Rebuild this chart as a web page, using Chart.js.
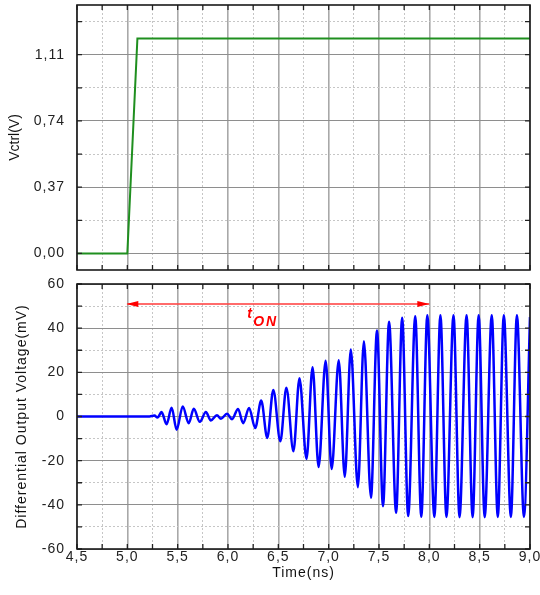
<!DOCTYPE html>
<html><head><meta charset="utf-8">
<script src="https://cdn.jsdelivr.net/npm/chart.js@4/dist/chart.umd.min.js"></script>
<style>
html,body{margin:0;padding:0;background:#fff;width:540px;height:595px;overflow:hidden}
#top{position:absolute;left:0;top:0;width:540px;height:280px}
#bot{position:absolute;left:0;top:270px;width:540px;height:325px}
</style></head><body>
<div id="top"><canvas id="c1"></canvas></div>
<div id="bot"><canvas id="c2"></canvas></div>
<script>
// ---- tick values / labels ----
const timeMajor = [4.5,5.0,5.5,6.0,6.5,7.0,7.5,8.0,8.5,9.0];
const timeMinor = [4.75,5.25,5.75,6.25,6.75,7.25,7.75,8.25,8.75];
const timeLabels = ['4,5','5,0','5,5','6,0','6,5','7,0','7,5','8,0','8,5','9,0'];
const vctrlMajor = [0,0.37,0.74,1.11];
const vctrlMinor = [0.185,0.555,0.925,1.295];
const vctrlLabels = ['0,00','0,37','0,74','1,11'];
const outMajor = [-60,-40,-20,0,20,40,60];
const outMinor = [-50,-30,-10,10,30,50];
const outLabels = ['-60','-40','-20','0','20','40','60'];

// ---- series ----
const vctrlTime = [4.5,5.0,5.1,9.0];
const vctrlValue = [0,0,1.2,1.2];

const outTime = [4.5,5.22,5.27,5.30,5.34,5.39,5.44,5.49,5.55,5.61,5.66,5.72,5.78,5.83,5.89,5.93,5.99,6.04,6.10,6.15,6.21,6.27,6.33,6.39,6.45,6.52,6.58,6.65,6.71,6.78,6.84,6.90,6.97,7.03,7.10,7.16,7.22,7.29,7.35,7.42,7.48,7.54,7.60,7.67,7.73,7.79,7.86,7.92,7.98,8.05,8.11,8.17,8.24,8.30,8.37,8.43,8.49,8.55,8.62,8.68,8.74,8.81,8.87,8.94,9.0];
const outValue = [0,0,0.4,-0.5,2,-3.5,4,-6,4.5,-3,3.5,-2.4,2,-1.8,0.6,-1,1.2,-1.2,3.4,-3,3.8,-5.2,7.2,-9.7,12,-11.2,13,-15.7,17.3,-19.2,22.3,-22.9,25.3,-23.8,25.5,-27.3,30.3,-32,34.1,-36.8,38.9,-40.6,42.9,-43.6,44.7,-45.1,45.4,-45.4,45.9,-45.5,45.9,-45.5,45.9,-45.6,45.9,-45.6,45.9,-45.6,45.9,-45.5,45.9,-45.5,45.9,-45.5,45];

// ---- annotation ----
const arrowTime = [5.0, 8.0];
const arrowValue = [51, 51];
const tonText = ['t', 'ON'];
const tonTime = [6.19, 6.25];
const tonValue = [44.8, 41.2];

const FONT = "'Liberation Sans', Arial, sans-serif";
const near = (a, v) => a.some(t => Math.abs(t - v) < 1e-6);
const labelFor = (maj, labs, v) => { const i = maj.findIndex(t => Math.abs(t - v) < 1e-6); return i >= 0 ? labs[i] : ''; };
const allTicks = (maj, min) => [...maj, ...min].sort((a,b)=>a-b).map(v => ({value: v}));

function gridOpts(maj, vertical){
  return {
    drawTicks: false,
    color: c => near(maj, c.tick.value) ? (vertical ? '#a8a8a8' : '#8e8e8e') : '#c6c6c6',
    lineWidth: c => near(maj, c.tick.value) ? (vertical ? 1.6 : 1) : 1
  };
}
function borderOpts(maj){
  return { display: false, dash: c => (c.tick && !near(maj, c.tick.value)) ? [2,2] : [] };
}

// top chart: letter spacing only for tick labels (drawn after datasets)
const spacingTop = {
  id: 'spacingTop',
  afterDatasetsDraw(chart){ chart.ctx.letterSpacing = '1px'; },
  afterDraw(chart){ chart.ctx.letterSpacing = '0px'; }
};
// bottom chart: letter spacing for all axis text
const spacingBot = {
  id: 'spacingBot',
  beforeDraw(chart){ chart.ctx.letterSpacing = '1px'; },
  afterDraw(chart){ chart.ctx.letterSpacing = '0px'; }
};

function frameTicks(xMaj, xMin, yMaj, yMin){
  return { id: 'frameTicks', afterDraw(chart){
    const {ctx, chartArea: a} = chart; const x = chart.scales.x, y = chart.scales.y;
    ctx.save(); ctx.letterSpacing = '0px';
    ctx.strokeStyle = '#222'; ctx.lineWidth = 1.3; ctx.setLineDash([]);
    const L = 5;
    ctx.beginPath();
    [...xMaj, ...xMin].forEach(v => { const p = x.getPixelForValue(v);
      ctx.moveTo(p, a.bottom); ctx.lineTo(p, a.bottom - L); ctx.moveTo(p, a.top); ctx.lineTo(p, a.top + L); });
    [...yMaj, ...yMin].forEach(v => { const p = y.getPixelForValue(v);
      ctx.moveTo(a.left, p); ctx.lineTo(a.left + L, p); ctx.moveTo(a.right, p); ctx.lineTo(a.right - L, p); });
    ctx.stroke();
    ctx.lineWidth = 1.6; ctx.strokeStyle = '#1a1a1a';
    ctx.strokeRect(a.left, a.top, a.right - a.left, a.bottom - a.top);
    ctx.restore();
  }};
}

const annot = { id: 'annot', afterDatasetsDraw(chart){
  const {ctx} = chart; const x = chart.scales.x, y = chart.scales.y;
  ctx.save();
  ctx.fillStyle = '#ff0000';
  const yp = y.getPixelForValue(arrowValue[0]);
  const x0 = x.getPixelForValue(arrowTime[0]), x1 = x.getPixelForValue(arrowTime[1]);
  ctx.beginPath(); ctx.moveTo(x0 - 1, yp); ctx.lineTo(x0 + 11, yp - 3); ctx.lineTo(x0 + 11, yp + 3); ctx.closePath(); ctx.fill();
  ctx.beginPath(); ctx.moveTo(x1, yp); ctx.lineTo(x1 - 12, yp - 3); ctx.lineTo(x1 - 12, yp + 3); ctx.closePath(); ctx.fill();
  ctx.letterSpacing = '0px';
  ctx.font = 'italic bold 14px ' + FONT; ctx.textBaseline = 'alphabetic'; ctx.textAlign = 'left';
  ctx.fillText(tonText[0], x.getPixelForValue(tonTime[0]), y.getPixelForValue(tonValue[0]));
  ctx.letterSpacing = '2px';
  ctx.font = 'italic bold 14px ' + FONT;
  ctx.fillText(tonText[1], x.getPixelForValue(tonTime[1]), y.getPixelForValue(tonValue[1]));
  ctx.restore();
}};

const tickFont = {family: FONT, size: 14};
const titleFont = {family: FONT, size: 14};

// ---- top chart ----
new Chart(document.getElementById('c1'), {
  type: 'line',
  data: { datasets: [{
    data: vctrlTime.map((t,i) => ({x: t, y: vctrlValue[i]})),
    borderColor: '#1f8f1f', borderWidth: 2, pointRadius: 0, tension: 0, fill: false
  }]},
  options: {
    responsive: true, maintainAspectRatio: false, animation: false,
    events: [],
    layout: { padding: {left: 0, right: 10, top: 5, bottom: 0}, autoPadding: false },
    plugins: { legend: {display: false}, tooltip: {enabled: false} },
    scales: {
      x: { type: 'linear', min: 4.5, max: 9.0,
        afterBuildTicks: s => { s.ticks = allTicks(timeMajor, timeMinor); },
        afterFit: s => { s.height = 10; s.paddingLeft = 0; s.paddingRight = 0; },
        ticks: { display: false },
        grid: gridOpts(timeMajor, true), border: borderOpts(timeMajor) },
      y: { type: 'linear', min: -0.0925, max: 1.3875,
        afterBuildTicks: s => { s.ticks = allTicks(vctrlMajor, vctrlMinor); },
        afterFit: s => { s.width = 77; s.paddingTop = 0; s.paddingBottom = 0; },
        ticks: { z: 1, autoSkip: false, padding: 12, color: '#222', font: tickFont,
          callback: v => labelFor(vctrlMajor, vctrlLabels, v) },
        title: { display: true, text: 'Vctrl(V)', color: '#111', font: titleFont, padding: {top: 6.6, bottom: 0} },
        grid: gridOpts(vctrlMajor, false), border: borderOpts(vctrlMajor) }
    }
  },
  plugins: [spacingTop, frameTicks(timeMajor, timeMinor, vctrlMajor, vctrlMinor)]
});

// ---- bottom chart ----
new Chart(document.getElementById('c2'), {
  type: 'line',
  data: { datasets: [
    { data: arrowTime.map((t,i) => ({x: t, y: arrowValue[i]})),
      borderColor: 'rgba(255,70,70,0.8)', borderWidth: 2, pointRadius: 0, tension: 0, fill: false },
    { data: outTime.map((t,i) => ({x: t, y: outValue[i]})),
      borderColor: '#0000ff', borderWidth: 2.5, pointRadius: 0, cubicInterpolationMode: 'monotone', fill: false }
  ]},
  options: {
    responsive: true, maintainAspectRatio: false, animation: false,
    events: [],
    layout: { padding: {left: 0, right: 10, top: 14, bottom: 0}, autoPadding: false },
    plugins: { legend: {display: false}, tooltip: {enabled: false} },
    scales: {
      x: { type: 'linear', min: 4.5, max: 9.0,
        afterBuildTicks: s => { s.ticks = allTicks(timeMajor, timeMinor); },
        afterFit: s => { s.height = 46; s.paddingLeft = 0; s.paddingRight = 0; },
        ticks: { z: 1, autoSkip: false, maxRotation: 0, padding: 0, color: '#222', font: tickFont,
          callback: v => labelFor(timeMajor, timeLabels, v) },
        title: { display: true, text: 'Time(ns)', color: '#111', font: titleFont, padding: {top: 0, bottom: 13.6} },
        grid: gridOpts(timeMajor, true), border: borderOpts(timeMajor) },
      y: { type: 'linear', min: -60, max: 60,
        afterBuildTicks: s => { s.ticks = allTicks(outMajor, outMinor); },
        afterFit: s => { s.width = 77; s.paddingTop = 0; s.paddingBottom = 0; },
        ticks: { z: 1, autoSkip: false, padding: 12, color: '#222', font: tickFont,
          callback: v => labelFor(outMajor, outLabels, v) },
        title: { display: true, text: 'Differential Output Voltage(mV)', color: '#111', font: titleFont, padding: {top: 14, bottom: 0} },
        grid: gridOpts(outMajor, false), border: borderOpts(outMajor) }
    }
  },
  plugins: [spacingBot, annot, frameTicks(timeMajor, timeMinor, outMajor, outMinor)]
});
</script>
</body></html>
